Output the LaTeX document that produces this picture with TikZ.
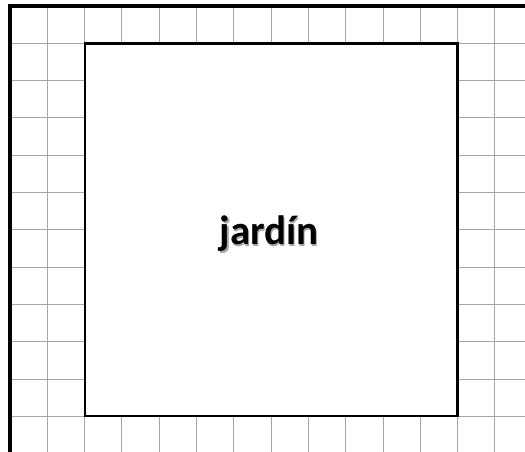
\documentclass[tikz,border=0pt]{standalone}
\usepackage{fontspec}
\setmainfont{Carlito}
\begin{document}
\begin{tikzpicture}[x=1pt,y=-1pt,
  gridline/.style={draw=black!35,line width=0.9pt},
  frameline/.style={draw=black,line width=3.4pt},
  gardenbox/.style={draw=black,line width=2.6pt,fill=white},
  label/.style={font=\fontsize{41}{41}\selectfont\bfseries,inner sep=0pt}]
\useasboundingbox (0,0) rectangle (525,452);
\fill[white] (0,0) rectangle (525,452);
% grid
\foreach \i in {1,...,13} {
  \draw[gridline] ({10+37.3*\i},6) -- ({10+37.3*\i},452);
}
\foreach \j in {1,...,12} {
  \draw[gridline] (10,{6+37.3*\j}) -- (525,{6+37.3*\j});
}
% outer frame (left and top)
\coordinate (bl) at (10,452);
\coordinate (tl) at (10,6);
\coordinate (tr) at (525,6);
\draw[frameline] (bl) -- (tl) -- (tr);
% garden
\node[gardenbox,minimum width=372.6pt,minimum height=372.6pt,inner sep=0pt] (garden) at (271.2,229.7) {};
\node[label,text=black!35] (shadow) at (270.5,235.5) {jardín};
\node[label] (lbl) at (269,234) {jardín};
\end{tikzpicture}
\end{document}
